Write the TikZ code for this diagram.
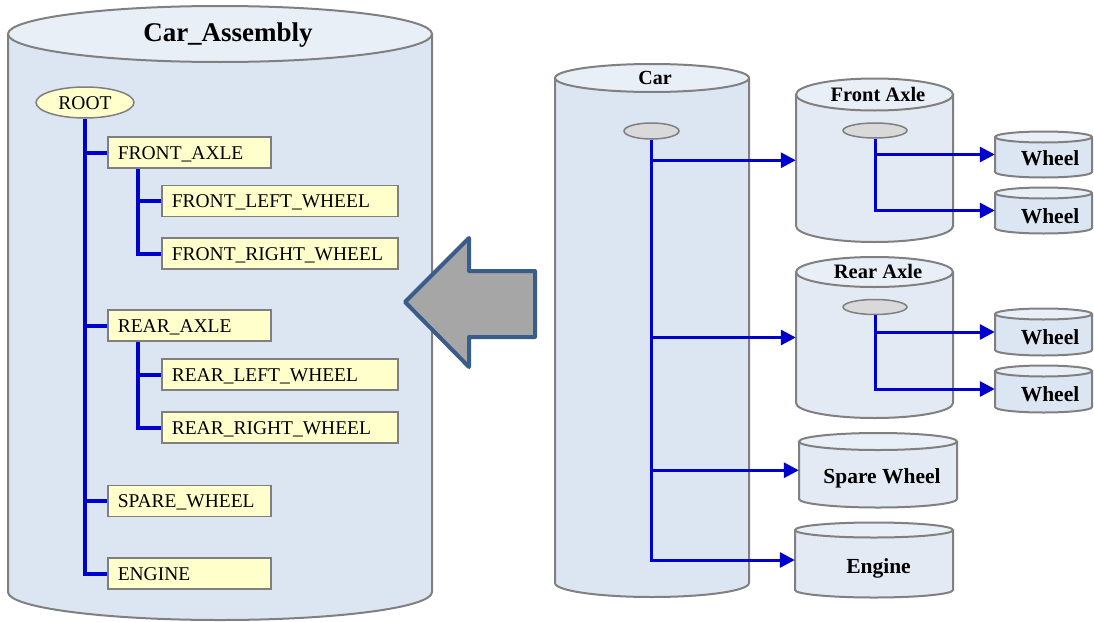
\documentclass[tikz,border=0pt]{standalone}
\usepackage{fontspec}
\setmainfont{Liberation Serif}
\usetikzlibrary{positioning, arrows.meta, shapes.geometric}
\definecolor{drumgray}{HTML}{808080}
\definecolor{drumbody}{HTML}{DCE6F2}
\definecolor{drumlight}{HTML}{E3EAF4}
\definecolor{drumtop}{HTML}{E9EFF7}
\definecolor{boxgray}{HTML}{7F7F7F}
\definecolor{boxyellow}{HTML}{FFFFCC}
\definecolor{hubgray}{HTML}{D9D9D9}
\definecolor{treeblue}{HTML}{0000CC}
\definecolor{arrowblue}{HTML}{385D8A}
\definecolor{arrowgray}{HTML}{A6A6A6}
\tikzset{
  drumline/.style  = {draw=drumgray, line width=2pt},
  partbox/.style   = {draw=boxgray, line width=1.5pt, fill=boxyellow, inner xsep=10pt, inner ysep=0pt, minimum height=31pt,
                      text height=13pt, text depth=0pt, align=left, anchor=west, font=\fontsize{19.5pt}{22pt}\selectfont},
  shortbox/.style  = {partbox, text width=143pt},
  longbox/.style   = {partbox, text width=216pt},
  rootnode/.style  = {ellipse, draw=boxgray, line width=1.5pt, fill=boxyellow, minimum width=98pt, minimum height=31pt,
                      inner sep=0pt, text height=13pt, text depth=0pt, font=\fontsize{19.5pt}{22pt}\selectfont},
  hub/.style       = {ellipse, draw=boxgray, line width=1.5pt, fill=hubgray, inner sep=0pt},
  drumtitle/.style = {inner sep=0pt, text height={0.66*#1pt}, text depth=0pt, font=\bfseries\fontsize{#1pt}{#1pt}\selectfont},
  tree/.style      = {draw=treeblue, line width=4pt},
  link/.style      = {draw=treeblue, line width=3pt, -{Triangle[length=15pt, width=15pt]}},
  bigarrow/.style  = {draw=arrowblue, line width=4pt, fill=arrowgray, line join=round}
}
% drum: name, cx, y top ellipse, y bottom ellipse, x radius, y radius, body fill
\newcommand{\drum}[7]{%
  \draw[drumline, fill=#7] (#2-#5,#3) -- (#2-#5,#4)
    arc[start angle=180, end angle=360, x radius=#5pt, y radius=#6pt] -- (#2+#5,#3);
  \draw[drumline, fill=drumtop] (#2,#3) ellipse[x radius=#5pt, y radius=#6pt];
  \node[inner sep=0pt, minimum width={2*#5pt}, minimum height={(#4-#3)*1pt}] (#1) at (#2,{(#3+#4)/2}) {};
}

\begin{document}
\begin{tikzpicture}[x=1pt, y=-1pt]
  \useasboundingbox (0,0) rectangle (1094,621);

  % assembled tree
  \drum{asm}{220}{34}{592}{212}{28}{drumbody}
  \node[drumtitle=27] (asmtitle) at (228,33) {Car\_Assembly};

  \node[rootnode] (root) at (85,102.5) {ROOT};
  \node[shortbox] (fa)  at (107,152.5) {FRONT\_AXLE};
  \node[longbox]  (flw) at (161,201)   {FRONT\_LEFT\_WHEEL};
  \node[longbox]  (frw) at (161,253.5) {FRONT\_RIGHT\_WHEEL};
  \node[shortbox] (ra)  at (107,325.5) {REAR\_AXLE};
  \node[longbox]  (rlw) at (161,374.5) {REAR\_LEFT\_WHEEL};
  \node[longbox]  (rrw) at (161,427.5) {REAR\_RIGHT\_WHEEL};
  \node[shortbox] (sw)  at (107,501)   {SPARE\_WHEEL};
  \node[shortbox] (en)  at (107,573.5) {ENGINE};

  \foreach \b in {fa, ra, sw, en}
    \draw[tree] (root.south) |- (\b.west);
  \foreach \w in {flw, frw}
    \draw[tree] ([xshift=31pt]fa.south west) |- (\w.west);
  \foreach \w in {rlw, rrw}
    \draw[tree] ([xshift=31pt]ra.south west) |- (\w.west);

  % conversion arrow
  \draw[bigarrow] (535,271) -- (469,271) -- (469,238) -- (405,302) -- (469,367) -- (469,337) -- (535,337) -- cycle;

  % separate parts
  \drum{car}{652}{78}{583}{97}{14}{drumbody}
  \node[drumtitle=20] (cartitle) at (655,78) {Car};
  \node[hub, minimum width=55pt, minimum height=16pt] (carhub) at (651.5,131) {};

  \drum{faxle}{874.5}{94.5}{226}{78.5}{16}{drumlight}
  \node[drumtitle=20.5] (fatitle) at (878,95) {Front Axle};
  \node[hub, minimum width=64pt, minimum height=15pt] (fahub) at (875,130.5) {};

  \drum{raxle}{874.5}{272}{403}{78.5}{15}{drumlight}
  \node[drumtitle=20.5] (ratitle) at (878,272) {Rear Axle};
  \node[hub, minimum width=64pt, minimum height=15pt] (rahub) at (875,307) {};

  \drum{w1}{1043.5}{137}{172}{48.5}{5.5}{drumbody}
  \drum{w2}{1043.5}{193}{228}{48.5}{5.5}{drumbody}
  \drum{w3}{1043.5}{314}{350}{48.5}{5.5}{drumbody}
  \drum{w4}{1043.5}{371}{407}{48.5}{5.5}{drumbody}
  \node[drumtitle=21.5] (w1lbl) at (1050,158) {Wheel};
  \node[drumtitle=21.5] (w2lbl) at (1050,216) {Wheel};
  \node[drumtitle=21.5] (w3lbl) at (1050,337) {Wheel};
  \node[drumtitle=21.5] (w4lbl) at (1050,394) {Wheel};

  \drum{spare}{878}{441.5}{499}{79}{8.5}{drumlight}
  \node[drumtitle=21.5] (sparelbl) at (882,476) {Spare Wheel};
  \drum{engine}{874}{530}{590}{79}{7.5}{drumlight}
  \node[drumtitle=21.5] (enginelbl) at (878.5,566) {Engine};

  \foreach \p in {faxle, raxle, spare, engine}
    \draw[link] (carhub.south) |- (\p.west);
  \foreach \w in {w1, w2}
    \draw[link] (fahub.south) |- (\w.west);
  \foreach \w in {w3, w4}
    \draw[link] (rahub.south) |- (\w.west);
\end{tikzpicture}
\end{document}
